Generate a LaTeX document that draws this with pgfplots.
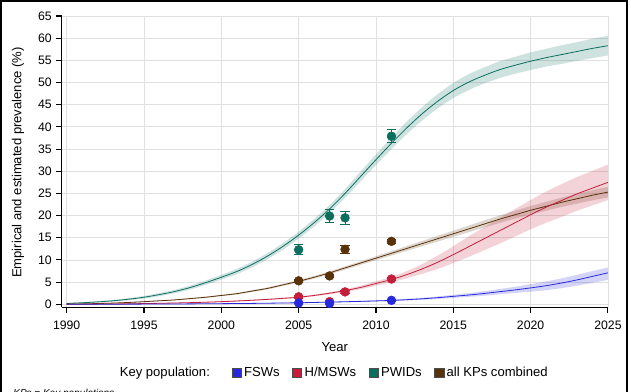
\documentclass[border=0pt]{standalone}
\usepackage{fontspec}
\setmainfont{Liberation Sans}
\usepackage{pgfplots}
\pgfplotsset{compat=1.18}
\usepackage{pgfplotstable}
\usepgfplotslibrary{fillbetween}

\definecolor{fswc}{RGB}{40,40,220}
\definecolor{msmc}{RGB}{196,30,58}
\definecolor{pwic}{RGB}{10,110,95}
\definecolor{allc}{RGB}{90,50,10}

% x = year, m = estimate, lo/hi = uncertainty band
\pgfplotstableread{
x m lo hi
1990 0.2 0.1 0.3
1991 0.35 0.25 0.45
1992 0.55 0.4 0.7
1993 0.8 0.6 1.0
1994 1.15 0.9 1.4
1995 1.6 1.3 1.9
1996 2.2 1.85 2.55
1997 2.9 2.5 3.3
1998 3.8 3.35 4.25
1999 4.9 4.4 5.4
2000 6.1 5.55 6.65
2001 7.4 6.8 8.0
2002 9.0 8.35 9.65
2003 10.9 10.2 11.6
2004 13.1 12.35 13.85
2005 15.6 14.8 16.4
2006 18.4 17.55 19.25
2007 21.5 20.6 22.4
2008 25.0 24.0 26.0
2009 28.8 27.7 29.9
2010 32.6 31.4 33.8
2011 36.3 35.0 37.6
2012 39.8 38.4 41.2
2013 43.0 41.5 44.5
2014 45.8 44.2 47.4
2015 48.2 46.5 49.9
2016 50.1 48.3 51.9
2017 51.6 49.8 53.4
2018 52.9 51.0 54.8
2019 53.9 52.0 55.8
2020 54.8 52.8 56.8
2021 55.6 53.6 57.6
2022 56.3 54.2 58.4
2023 57.0 54.9 59.1
2024 57.7 55.5 59.9
2025 58.3 56.1 60.5
}\pwid

\pgfplotstableread{
x m lo hi
1990 0.05 0.0 0.1
1991 0.1 0.05 0.15
1992 0.18 0.12 0.24
1993 0.28 0.2 0.36
1994 0.42 0.33 0.51
1995 0.6 0.5 0.7
1996 0.8 0.7 0.9
1997 1.0 0.9 1.1
1998 1.3 1.18 1.42
1999 1.6 1.47 1.73
2000 2.0 1.85 2.15
2001 2.4 2.23 2.57
2002 3.0 2.8 3.2
2003 3.6 3.38 3.82
2004 4.4 4.15 4.65
2005 5.2 4.93 5.47
2006 6.1 5.8 6.4
2007 7.1 6.77 7.43
2008 8.2 7.83 8.57
2009 9.3 8.9 9.7
2010 10.4 9.95 10.85
2011 11.5 11.0 12.0
2012 12.6 12.05 13.15
2013 13.7 13.1 14.3
2014 14.8 14.15 15.45
2015 15.9 15.2 16.6
2016 17.0 16.25 17.75
2017 18.1 17.3 18.9
2018 19.2 18.35 20.05
2019 20.2 19.3 21.1
2020 21.2 20.25 22.15
2021 22.1 21.1 23.1
2022 23.0 21.95 24.05
2023 23.8 22.7 24.9
2024 24.6 23.45 25.75
2025 25.3 24.1 26.5
}\allkp

\pgfplotstableread{
x m lo hi
1990 0.0 0.0 0.0
1991 0.02 0.0 0.04
1992 0.05 0.02 0.08
1993 0.08 0.04 0.12
1994 0.12 0.07 0.17
1995 0.17 0.11 0.23
1996 0.23 0.16 0.3
1997 0.3 0.22 0.38
1998 0.38 0.29 0.47
1999 0.48 0.38 0.58
2000 0.6 0.49 0.71
2001 0.75 0.63 0.87
2002 0.92 0.79 1.05
2003 1.12 0.98 1.26
2004 1.35 1.2 1.5
2005 1.6 1.43 1.77
2006 2.0 1.8 2.2
2007 2.5 2.27 2.73
2008 3.1 2.8 3.4
2009 3.8 3.4 4.2
2010 4.7 4.2 5.2
2011 5.6 5.0 6.2
2012 6.7 5.9 7.5
2013 8.0 6.9 9.1
2014 9.5 8.0 11.0
2015 11.2 9.3 13.1
2016 13.0 10.7 15.3
2017 14.8 12.2 17.4
2018 16.6 13.7 19.5
2019 18.4 15.3 21.5
2020 20.2 16.9 23.5
2021 21.9 18.4 25.4
2022 23.4 19.7 27.1
2023 24.9 21.1 28.7
2024 26.2 22.3 30.1
2025 27.5 23.5 31.5
}\hmsw

\pgfplotstableread{
x m lo hi
1990 0.02 0.0 0.04
1992 0.03 0.01 0.05
1994 0.04 0.02 0.06
1996 0.07 0.04 0.1
1998 0.1 0.07 0.13
2000 0.15 0.11 0.19
2002 0.21 0.16 0.26
2004 0.3 0.24 0.36
2005 0.35 0.28 0.42
2006 0.42 0.34 0.5
2007 0.5 0.41 0.59
2008 0.58 0.48 0.68
2009 0.67 0.55 0.79
2010 0.77 0.63 0.91
2011 0.88 0.72 1.04
2012 1.05 0.86 1.24
2013 1.25 1.02 1.48
2014 1.5 1.22 1.78
2015 1.8 1.45 2.15
2016 2.1 1.68 2.52
2017 2.45 1.95 2.95
2018 2.85 2.25 3.45
2019 3.25 2.55 3.95
2020 3.7 2.85 4.55
2021 4.2 3.2 5.15
2022 4.8 3.65 5.85
2023 5.5 4.2 6.65
2024 6.3 4.85 7.5
2025 7.1 5.5 8.3
}\fsw

% observed prevalence: x, y, error
\pgfplotstableread{
x y e
2005 12.3 1.1
2007 19.9 1.4
2008 19.5 1.5
2011 37.9 1.5
}\pwidpts
\pgfplotstableread{
x y e
2005 5.3 0.3
2007 6.4 0.3
2008 12.4 0.9
2011 14.2 0.4
}\allpts
\pgfplotstableread{
x y e
2005 1.7 0.3
2007 0.6 0.2
2008 2.8 0.4
2011 5.7 0.3
}\hmswpts
\pgfplotstableread{
x y e
2005 0.3 0.1
2007 0.2 0.1
2011 0.9 0.2
}\fswpts

\begin{document}
\begin{tikzpicture}
\begin{axis}[
  scale only axis,
  width=409.7pt, height=218.5pt,
  xmin=1989.68, xmax=2025, ymin=-0.67, ymax=65,
  xtick={1990,1995,...,2025}, ytick={0,5,...,65},
  x tick label style={/pgf/number format/1000 sep={}, yshift=-2.5pt},
  /pgf/number format/assume math mode=true,
  tick label style={font=\fontsize{9.2}{11}\selectfont},
  label style={font=\fontsize{9.8}{12}\selectfont},
  axis x line*=bottom, axis y line*=left,
  axis line style={-, black, line width=0.8pt},
  tick align=outside, major tick length=4pt,
  tick style={black, line width=0.8pt},
  grid=major, grid style={black!12, line width=0.6pt},
  xlabel={Year},
  ylabel={Empirical and estimated prevalence (\%)},
  xlabel style={at={(axis description cs:0.5,-0.136)}, anchor=center},
  ylabel style={at={(axis description cs:-0.080,0.497)}, anchor=center},
  legend columns=-1,
  legend style={at={(axis description cs:0.498,-0.2255)}, anchor=center,
    draw=none, fill=none, font=\fontsize{9.8}{12}\selectfont,
    /tikz/every even column/.append style={column sep=7.5pt}},
  legend image code/.code={\draw[#1] (0pt,-3.4pt) rectangle (6.8pt,3.4pt);},
  error bars/y dir=both, error bars/y explicit,
  error bars/error bar style={line width=0.7pt},
]
\addlegendimage{empty legend}
\addlegendentry{Key population:\rule{7pt}{0pt}}
\addlegendimage{fill=fswc, draw=black!70}
\addlegendentry{FSWs}
\addlegendimage{fill=msmc, draw=black!70}
\addlegendentry{H/MSWs}
\addlegendimage{fill=pwic, draw=black!70}
\addlegendentry{PWIDs}
\addlegendimage{fill=allc, draw=black!70}
\addlegendentry{all KPs combined}

% bands
\addplot[draw=none, smooth, name path=pwh, forget plot] table[x=x, y=hi] {\pwid};
\addplot[draw=none, smooth, name path=pwl, forget plot] table[x=x, y=lo] {\pwid};
\addplot[pwic, fill opacity=0.2, draw=none, forget plot] fill between[of=pwh and pwl];
\addplot[draw=none, smooth, name path=alh, forget plot] table[x=x, y=hi] {\allkp};
\addplot[draw=none, smooth, name path=all, forget plot] table[x=x, y=lo] {\allkp};
\addplot[allc, fill opacity=0.2, draw=none, forget plot] fill between[of=alh and all];
\addplot[draw=none, smooth, name path=hmh, forget plot] table[x=x, y=hi] {\hmsw};
\addplot[draw=none, smooth, name path=hml, forget plot] table[x=x, y=lo] {\hmsw};
\addplot[msmc, fill opacity=0.2, draw=none, forget plot] fill between[of=hmh and hml];
\addplot[draw=none, smooth, name path=fsh, forget plot] table[x=x, y=hi] {\fsw};
\addplot[draw=none, smooth, name path=fsl, forget plot] table[x=x, y=lo] {\fsw};
\addplot[fswc, fill opacity=0.2, draw=none, forget plot] fill between[of=fsh and fsl];

% central estimates
\addplot[pwic, line width=0.6pt, smooth, no marks, forget plot] table[x=x, y=m] {\pwid};
\addplot[allc, line width=0.6pt, smooth, no marks, forget plot] table[x=x, y=m] {\allkp};
\addplot[msmc, line width=0.6pt, smooth, no marks, forget plot] table[x=x, y=m] {\hmsw};
\addplot[fswc, line width=0.6pt, smooth, no marks, forget plot] table[x=x, y=m] {\fsw};

% observed data
\addplot[only marks, mark=*, mark size=3.3pt, pwic, forget plot,
  error bars/error mark options={pwic, mark size=3.5pt, line width=0.7pt, rotate=90}]
  table[x=x, y=y, y error=e] {\pwidpts};
\addplot[only marks, mark=*, mark size=3.3pt, allc, forget plot,
  error bars/error mark options={allc, mark size=3.5pt, line width=0.7pt, rotate=90}]
  table[x=x, y=y, y error=e] {\allpts};
\addplot[only marks, mark=*, mark size=3.3pt, msmc, forget plot,
  error bars/error mark options={msmc, mark size=3.5pt, line width=0.7pt, rotate=90}]
  table[x=x, y=y, y error=e] {\hmswpts};
\addplot[only marks, mark=*, mark size=3.3pt, fswc, forget plot,
  error bars/error mark options={fswc, mark size=3.5pt, line width=0.7pt, rotate=90}]
  table[x=x, y=y, y error=e] {\fswpts};
\end{axis}
\draw[line width=1.5pt] (-45.5pt,-75pt) -- (-45.5pt,229.7pt) -- (424.0pt,229.7pt) -- (424.0pt,-75pt);
\node[anchor=north west, inner sep=0pt, font=\fontsize{7.5}{9}\selectfont\itshape] at (-36.5pt,-61.3pt) {KPs = Key populations};
\pgfresetboundingbox
\useasboundingbox (-46.3pt,-62.8pt) rectangle (427.0pt,230.5pt);
\end{tikzpicture}
\end{document}
